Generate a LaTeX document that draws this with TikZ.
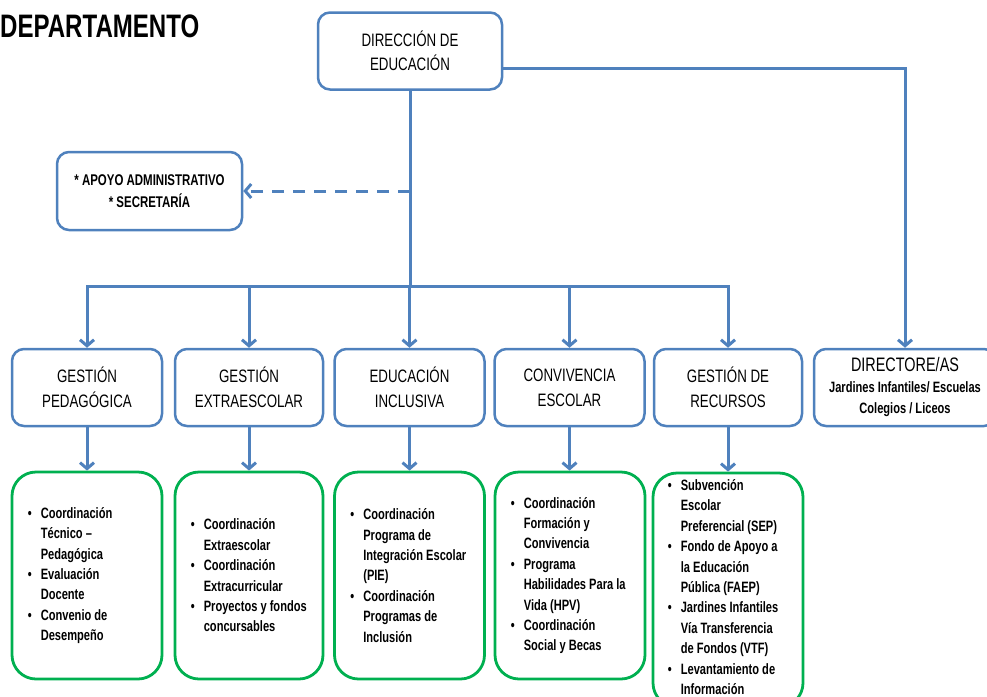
\documentclass[tikz,border=0pt]{standalone}
\usepackage{fontspec}
\setmainfont{Liberation Sans}[FakeStretch=0.74]
\usetikzlibrary{arrows.meta,calc}
\definecolor{obl}{HTML}{4F81BD}
\definecolor{ogr}{HTML}{00B050}
\newcommand{\gbl}{\makebox[13pt][l]{•}}
\newcommand{\gin}{\hspace*{13pt}}
\tikzset{
 bbox/.style={draw=obl, line width=2.5pt, rounded corners=12pt, fill=white, inner sep=0pt, minimum height=77pt, align=center, font=\fontsize{18}{25}\selectfont},
 gbox/.style={draw=ogr, line width=2.8pt, rounded corners=24pt, inner sep=0pt, minimum height=207pt, minimum width=150pt},
 gtext/.style={anchor=west, align=left, inner sep=0pt, font=\fontsize{15}{20.4}\selectfont\bfseries},
 conn/.style={draw=obl, line width=3pt},
 arr/.style={conn, -{Straight Barb[length=6pt,width=14pt]}},
 darr/.style={arr, dash pattern=on 12pt off 9pt},
}
\begin{document}
\begin{tikzpicture}[x=1pt,y=-1pt]
\useasboundingbox (0,0) rectangle (987,696);
\clip (0,0) rectangle (987,696);
\coordinate (bus) at (0,286);
\node[anchor=base west, inner sep=0pt, font=\fontsize{32.5}{33}\selectfont\bfseries] (title) at (0,37) {DEPARTAMENTO};
\node[bbox, minimum width=184pt, font=\fontsize{18}{24}\selectfont] (dir) at (410,51) {DIRECCIÓN DE\\EDUCACIÓN};
\node[bbox, minimum width=185pt, minimum height=78pt, font=\fontsize{15.5}{22}\selectfont\bfseries] (apo) at (149.5,191) {* APOYO ADMINISTRATIVO\\* SECRETARÍA};
\node[bbox, minimum width=150pt] (gp) at (87,387.5) {GESTIÓN\\PEDAGÓGICA};
\node[bbox, minimum width=148pt] (ge) at (249,387.5) {GESTIÓN\\EXTRAESCOLAR};
\node[bbox, minimum width=150pt] (ei) at (409.5,387.5) {EDUCACIÓN\\INCLUSIVA};
\node[bbox, minimum width=150pt] (ce) at (569.5,387.5) {CONVIVENCIA\\ESCOLAR};
\node[bbox, minimum width=148pt] (gr) at (728,387.5) {GESTIÓN DE\\RECURSOS};
\node[bbox, minimum width=182pt, font=\fontsize{15}{21}\selectfont\bfseries] (dr) at (905,387.5) {{\fontsize{19.5}{21}\selectfont\mdseries DIRECTORE/AS}\\Jardines Infantiles/ Escuelas\\Colegios / Liceos};
\node[gbox] (g1) at (87,575.5) {};
\node[gbox, minimum width=148pt] (g2) at (249,575.5) {};
\node[gbox] (g3) at (409.5,575.5) {};
\node[gbox] (g4) at (570,575.5) {};
\node[gbox, minimum height=234pt] (g5) at (728,590) {};
\node[gtext] (t1) at ([xshift=17pt]g1.west) {\gbl Coordinación\\\gin Técnico –\\\gin Pedagógica\\\gbl Evaluación\\\gin Docente\\\gbl Convenio de\\\gin Desempeño};
\node[gtext] (t2) at ([xshift=17pt]g2.west) {\gbl Coordinación\\\gin Extraescolar\\\gbl Coordinación\\\gin Extracurricular\\\gbl Proyectos y fondos\\\gin concursables};
\node[gtext] (t3) at ([xshift=17pt]g3.west) {\gbl Coordinación\\\gin Programa de\\\gin Integración Escolar\\\gin (PIE)\\\gbl Coordinación\\\gin Programas de\\\gin Inclusión};
\node[gtext] (t4) at ([xshift=17pt]g4.west) {\gbl Coordinación\\\gin Formación y\\\gin Convivencia\\\gbl Programa\\\gin Habilidades Para la\\\gin Vida (HPV)\\\gbl Coordinación\\\gin Social y Becas};
\node[gtext] (t5) at ([xshift=16pt,yshift=3pt]g5.west) {\gbl Subvención\\\gin Escolar\\\gin Preferencial (SEP)\\\gbl Fondo de Apoyo a\\\gin la Educación\\\gin Pública (FAEP)\\\gbl Jardines Infantiles\\\gin Vía Transferencia\\\gin de Fondos (VTF)\\\gbl Levantamiento de\\\gin Información};
\draw[conn] (dir.south) -- (dir.south |- bus);
\draw[conn, line cap=rect] (gp.north |- bus) -- (gr.north |- bus);
\foreach \n in {gp,ge,ei,ce,gr} \draw[arr] (\n.north |- bus) -- (\n.north);
\draw[arr] ([yshift=-17pt]dir.east) -| (dr.north);
\draw[darr] (dir.south |- apo.east) -- (apo.east);
\draw[arr] (gp.south) -- (g1.north);
\draw[arr] (ge.south) -- (g2.north);
\draw[arr] (ei.south) -- (g3.north);
\draw[arr] (ce.south) -- (ce.south |- g4.north);
\draw[arr] (gr.south) -- (g5.north);
\end{tikzpicture}
\end{document}
